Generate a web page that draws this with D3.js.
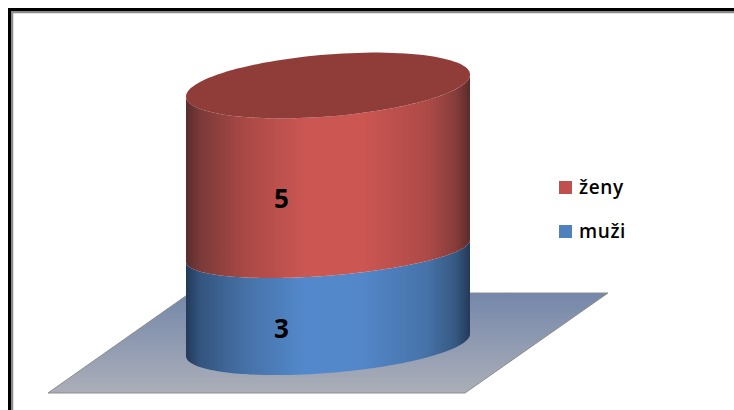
<!DOCTYPE html>
<meta charset="utf-8">
<head>
  <title>ženy a muži</title>
</head>
<body>
<style>

  html, body {
    margin: 0;
    background: #fff;
  }

  svg {
    display: block;
  }

  text {
    font-family: "Open Sans", sans-serif;
    fill: #000;
  }

  .value-label {
    font-size: 26px;
    font-weight: 700;
    text-anchor: middle;
  }

  .legend-label {
    font-size: 19px;
    font-weight: 600;
    letter-spacing: 0.6px;
  }

</style>
<script src="https://cdn.jsdelivr.net/npm/d3@7"></script>
<script>

(function() {

var categories = ["muži", "ženy"],
    values = [3, 5],
    legendOrder = ["ženy", "muži"];

var width = 734,
    height = 410;

var cylinder = { cx: 328, baseY: 345, a: 142, shear: 11 };

var palette = {
  "muži": { swatch: "#4f81bd", stops: ["#223a58", "#33557f", "#4570a5", "#5389cc", "#5387c9", "#4672a8", "#355880", "#24395a"] },
  "ženy": { swatch: "#c0504d", stops: ["#5a2d2d", "#7a3a38", "#a84845", "#cb5652", "#cc5652", "#ad4a47", "#863c3a", "#5a2b2a"] }
};

var stopOffsets = [0, 0.05, 0.2, 0.42, 0.62, 0.85, 0.95, 1];

var svg = d3.select("body").append("svg")
    .attr("width", width)
    .attr("height", height);

var defs = svg.append("defs");

// cumulative value -> height above the base, upper units look a bit taller in perspective
var level = d3.scalePow()
    .exponent(1.035)
    .domain([0, d3.sum(values)])
    .range([0, 259.5]);

// rim depth changes slightly going up the cylinder
var rimDepth = d3.scaleLinear()
    .domain([0, 3, 8])
    .range([28, 24.7, 31]);

var stacked = d3.stack().keys(categories)([Object.fromEntries(categories.map(function(c, i) { return [c, values[i]]; }))]);

var lineGen = d3.line();

// point on the tilted ellipse lying at a given level
function rim(t, value) {
  var cy = cylinder.baseY - level(value);
  return [
    cylinder.cx + cylinder.a * Math.cos(t),
    cy + rimDepth(value) * Math.sin(t) - cylinder.shear * Math.cos(t)
  ];
}

function angles(from, to) {
  return d3.range(0, 121).map(function(i) { return from + (to - from) * i / 120; });
}

function sidePath(v0, v1) {
  var front = angles(Math.PI, 0);
  var lower = front.map(function(t) { return rim(t, v0); });
  var upper = front.slice().reverse().map(function(t) { return rim(t, v1); });
  return lineGen(lower.concat(upper)) + "Z";
}

addFrame();
addFloor();
addCylinder();
addLegend();

function addFrame() {
  var frame = svg.append("g").attr("fill", "none");
  frame.append("path")
      .attr("d", "M12,410V12H734")
      .attr("stroke", "#8a8a8a")
      .attr("stroke-width", 2.5);
  frame.append("path")
      .attr("d", "M9.5,410V9.5H734")
      .attr("stroke", "#000")
      .attr("stroke-width", 3);
}

function addFloor() {
  var grad = defs.append("linearGradient")
      .attr("id", "floor-fill")
      .attr("x1", 0).attr("y1", 0)
      .attr("x2", 0).attr("y2", 1);
  grad.append("stop").attr("offset", 0).attr("stop-color", "#7487aa");
  grad.append("stop").attr("offset", 1).attr("stop-color", "#abaeb8");

  svg.append("path")
      .attr("d", "M48,393L465,393L608,293L190,293Z")
      .attr("fill", "url(#floor-fill)")
      .attr("stroke", "#8d8d8d")
      .attr("stroke-width", 1);
}

function addCylinder() {
  stacked.forEach(function(s) {
    var name = s.key,
        id = "side-" + categories.indexOf(name);

    var grad = defs.append("linearGradient")
        .attr("id", id)
        .attr("x1", 0).attr("y1", 0)
        .attr("x2", 1).attr("y2", 0);
    palette[name].stops.forEach(function(c, i) {
      grad.append("stop").attr("offset", stopOffsets[i]).attr("stop-color", c);
    });

    svg.append("path")
        .attr("d", sidePath(s[0][0], s[0][1]))
        .attr("fill", "url(#" + id + ")");
  });

  // lid of the top segment
  var total = d3.sum(values);
  svg.append("path")
      .attr("d", lineGen(angles(0, 2 * Math.PI).map(function(t) { return rim(t, total); })) + "Z")
      .attr("fill", "#903c39");

  // values sit on the front of each segment
  svg.selectAll(".value-label")
      .data(stacked)
    .enter().append("text")
      .attr("class", "value-label")
      .attr("x", cylinder.cx - 46.5)
      .attr("y", function(s) { return cylinder.baseY - level((s[0][0] + s[0][1]) / 2) + 30; })
      .attr("dy", "0.36em")
      .text(function(s) { return s[0].data[s.key]; });
}

function addLegend() {
  var y = d3.scalePoint()
      .domain(legendOrder)
      .range([187.5, 231.5]);

  var items = svg.selectAll(".legend-item")
      .data(legendOrder)
    .enter().append("g")
      .attr("class", "legend-item")
      .attr("transform", function(d) { return "translate(559," + y(d) + ")"; });

  items.append("rect")
      .attr("y", -6.5)
      .attr("width", 13)
      .attr("height", 13)
      .attr("fill", function(d) { return palette[d].swatch; });

  items.append("text")
      .attr("class", "legend-label")
      .attr("x", 20)
      .attr("y", 6)
      .text(function(d) { return d; });
}

})();

</script>
</body>
